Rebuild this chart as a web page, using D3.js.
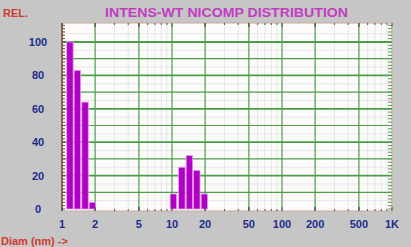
<!DOCTYPE html>
<html>
<head>
<meta charset="utf-8">
<script src="https://cdn.jsdelivr.net/npm/d3@7"></script>
<style>
  body { margin: 0; background: #c6c6c6; }
  svg { display: block; font-family: "Liberation Sans", Arial, sans-serif; }
</style>
</head>
<body>
<div id="chart"></div>
<script>
var svgWidth = 411;
var svgHeight = 247;

// data
var diameters = [1.18, 1.38, 1.62, 1.89, 10.3, 12.3, 14.4, 16.8, 19.7];
var intensities = [100, 83, 64, 4, 9, 25, 32, 23, 9];
var xTickValues = [1, 2, 5, 10, 20, 50, 100, 200, 500, 1000];
var xTickLabels = ["1", "2", "5", "10", "20", "50", "100", "200", "500", "1K"];
var yTickValues = [0, 20, 40, 60, 80, 100];

// plot frame
var frame = { left: 62, right: 392, top: 23, bottom: 211 };

var svg = d3.select("#chart")
  .append("svg")
  .attr("width", svgWidth)
  .attr("height", svgHeight);

var xScale = d3.scaleLog()
  .domain([1, 1000])
  .range([frame.left, frame.right]);

var yScale = d3.scaleLinear()
  .domain([0, 100])
  .range([209, 42]);

var topValue = yScale.invert(frame.top);

// white plot area
svg.append("rect")
  .attr("x", frame.left)
  .attr("y", frame.top)
  .attr("width", frame.right - frame.left)
  .attr("height", frame.bottom - frame.top)
  .attr("fill", "#fdfafa");

var grid = svg.append("g");

// faint minor grid
var minorX = [];
[1, 10, 100].forEach(function(dec) {
  for (var k = 2; k <= 9; k++) minorX.push(dec * k);
});
grid.selectAll(".minx")
  .data(minorX.filter(d => xTickValues.indexOf(d) < 0))
  .enter().append("line")
  .attr("x1", d => xScale(d)).attr("x2", d => xScale(d))
  .attr("y1", frame.top).attr("y2", frame.bottom)
  .attr("stroke", "#e6e6e6").attr("stroke-width", 1);

grid.selectAll(".miny")
  .data(d3.range(5, topValue, 10))
  .enter().append("line")
  .attr("x1", frame.left).attr("x2", frame.right)
  .attr("y1", d => yScale(d)).attr("y2", d => yScale(d))
  .attr("stroke", "#e6e6e6").attr("stroke-width", 1);

// green major grid
grid.selectAll(".majx")
  .data(xTickValues.slice(1, -1))
  .enter().append("line")
  .attr("x1", d => xScale(d)).attr("x2", d => xScale(d))
  .attr("y1", frame.top).attr("y2", frame.bottom)
  .attr("stroke", "#4a9e4a").attr("stroke-width", 1.2);

grid.selectAll(".majy")
  .data(d3.range(10, 101, 10))
  .enter().append("line")
  .attr("x1", frame.left).attr("x2", frame.right)
  .attr("y1", d => yScale(d)).attr("y2", d => yScale(d))
  .attr("stroke", "#4a9e4a").attr("stroke-width", d => d % 20 === 0 ? 1.8 : 1.2);

// bars
var barFactor = 1.07;
svg.append("g").selectAll("rect")
  .data(diameters)
  .enter().append("rect")
  .attr("x", d => xScale(d / barFactor))
  .attr("width", d => xScale(d * barFactor) - xScale(d / barFactor))
  .attr("y", (d, i) => yScale(intensities[i]))
  .attr("height", (d, i) => yScale(0) - yScale(intensities[i]))
  .attr("fill", "#b000c4")
  .attr("stroke", "#e69af0")
  .attr("stroke-width", 0.8);

// frame edges and ticks
var edges = svg.append("g");
edges.append("rect")
  .attr("x", frame.left).attr("y", frame.top)
  .attr("width", frame.right - frame.left)
  .attr("height", frame.bottom - frame.top)
  .attr("fill", "none")
  .attr("stroke", "#c9a8a0").attr("stroke-width", 1);

edges.append("line")
  .attr("x1", frame.left).attr("x2", frame.left)
  .attr("y1", frame.top).attr("y2", frame.bottom)
  .attr("stroke", "#7a4a30").attr("stroke-width", 1.5);

var yMinorTicks = d3.range(0, topValue, 2);
edges.selectAll(".ltick")
  .data(yMinorTicks)
  .enter().append("line")
  .attr("x1", frame.left).attr("x2", frame.left + 3)
  .attr("y1", d => yScale(d)).attr("y2", d => yScale(d))
  .attr("stroke", "#6a4a30").attr("stroke-width", 1);

edges.selectAll(".rtick")
  .data(yMinorTicks)
  .enter().append("line")
  .attr("x1", frame.right - 4).attr("x2", frame.right)
  .attr("y1", d => yScale(d)).attr("y2", d => yScale(d))
  .attr("stroke", "#4a9e4a").attr("stroke-width", 1);

var xAllTicks = minorX.concat(xTickValues);
edges.selectAll(".ttick")
  .data(xAllTicks)
  .enter().append("line")
  .attr("x1", d => xScale(d)).attr("x2", d => xScale(d))
  .attr("y1", frame.top).attr("y2", d => frame.top + (xTickValues.indexOf(d) >= 0 ? 4 : 2))
  .attr("stroke", "#555").attr("stroke-width", 1);

edges.selectAll(".btick")
  .data(xAllTicks)
  .enter().append("line")
  .attr("x1", d => xScale(d)).attr("x2", d => xScale(d))
  .attr("y1", frame.bottom).attr("y2", d => frame.bottom - (xTickValues.indexOf(d) >= 0 ? 4 : 2))
  .attr("stroke", "#555").attr("stroke-width", 1);

// tick labels
svg.append("g").selectAll("text")
  .data(yTickValues)
  .enter().append("text")
  .attr("x", 38)
  .attr("y", d => yScale(d) + 4)
  .attr("text-anchor", "middle")
  .attr("font-size", 11)
  .attr("font-weight", "bold")
  .attr("fill", "#1c2c8c")
  .text(d => d);

svg.append("g").selectAll("text")
  .data(xTickValues)
  .enter().append("text")
  .attr("x", d => xScale(d))
  .attr("y", 228)
  .attr("text-anchor", "middle")
  .attr("font-size", 11)
  .attr("font-weight", "bold")
  .attr("fill", "#1c2c8c")
  .text((d, i) => xTickLabels[i]);

// titles
svg.append("text")
  .attr("x", 105).attr("y", 17)
  .attr("font-size", 13)
  .attr("font-weight", "bold")
  .attr("fill", "#c23cc2")
  .attr("textLength", 243)
  .attr("lengthAdjust", "spacingAndGlyphs")
  .text("INTENS-WT NICOMP DISTRIBUTION");

svg.append("text")
  .attr("x", 3).attr("y", 17)
  .attr("font-size", 11)
  .attr("font-weight", "bold")
  .attr("fill", "#d03a30")
  .text("REL.");

svg.append("text")
  .attr("x", 1).attr("y", 245)
  .attr("font-size", 11)
  .attr("font-weight", "bold")
  .attr("fill", "#d03a30")
  .text("Diam (nm) ->");
</script>
</body>
</html>
